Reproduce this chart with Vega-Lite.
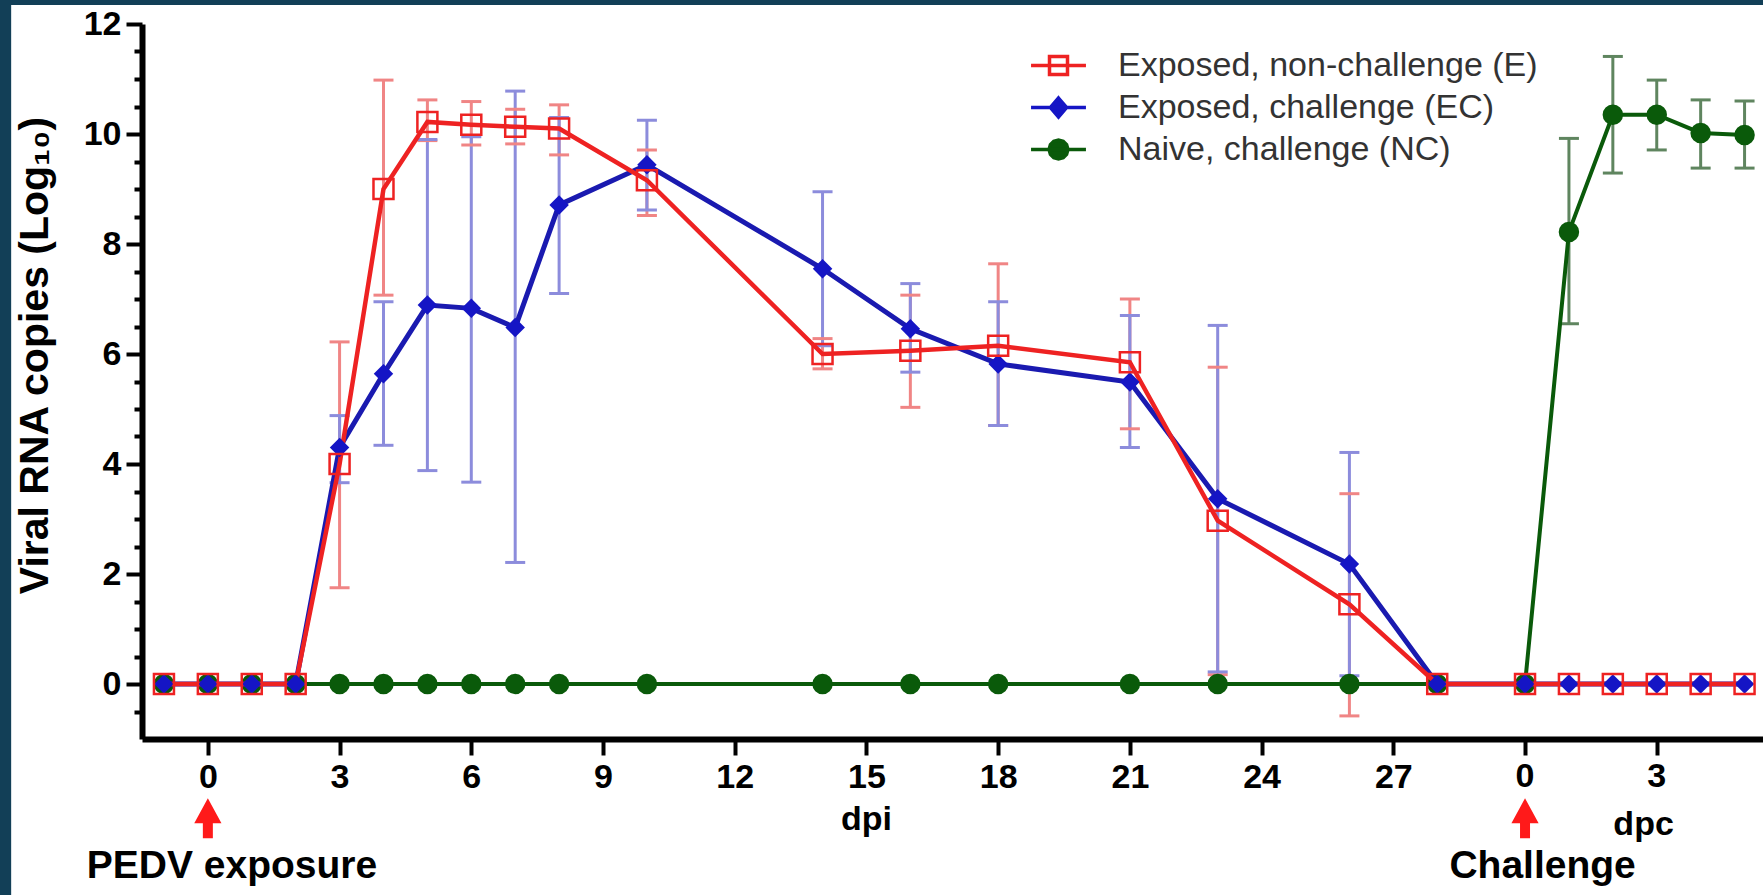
{
  "$schema": "https://vega.github.io/schema/vega-lite/v6.json",
  "width": 1621,
  "height": 715,
  "autosize": {"type": "none"},
  "padding": {"left": 142, "top": 24, "right": 0, "bottom": 156},
  "background": "white",
  "config": {"view": {"stroke": null}, "font": "Liberation Sans"},
  "resolve": {"axis": {"x": "independent", "y": "independent"}},
  "data": {"values": [
    {"s":"E","x":-1,"y":0},{"s":"E","x":0,"y":0},{"s":"E","x":1,"y":0},{"s":"E","x":2,"y":0},
    {"s":"E","x":3,"y":4.0,"lo":1.75,"hi":6.22},
    {"s":"E","x":4,"y":9.0,"lo":7.07,"hi":10.98},
    {"s":"E","x":5,"y":10.22,"lo":9.88,"hi":10.62},
    {"s":"E","x":6,"y":10.17,"lo":9.8,"hi":10.59},
    {"s":"E","x":7,"y":10.13,"lo":9.82,"hi":10.45},
    {"s":"E","x":8,"y":10.1,"lo":9.62,"hi":10.53},
    {"s":"E","x":10,"y":9.16,"lo":8.52,"hi":9.71},
    {"s":"E","x":14,"y":6.0,"lo":5.73,"hi":6.28},
    {"s":"E","x":16,"y":6.06,"lo":5.03,"hi":7.07},
    {"s":"E","x":18,"y":6.15,"lo":4.7,"hi":7.64},
    {"s":"E","x":21,"y":5.85,"lo":4.64,"hi":7.0},
    {"s":"E","x":23,"y":2.97,"lo":0.17,"hi":5.76},
    {"s":"E","x":26,"y":1.45,"lo":-0.58,"hi":3.46},
    {"s":"E","x":28,"y":0},{"s":"E","x":30,"y":0},{"s":"E","x":31,"y":0},{"s":"E","x":32,"y":0},{"s":"E","x":33,"y":0},{"s":"E","x":34,"y":0},{"s":"E","x":35,"y":0},
    {"s":"EC","x":-1,"y":0},{"s":"EC","x":0,"y":0},{"s":"EC","x":1,"y":0},{"s":"EC","x":2,"y":0},
    {"s":"EC","x":3,"y":4.3,"lo":3.66,"hi":4.88},
    {"s":"EC","x":4,"y":5.64,"lo":4.34,"hi":6.95},
    {"s":"EC","x":5,"y":6.89,"lo":3.88,"hi":9.9},
    {"s":"EC","x":6,"y":6.83,"lo":3.67,"hi":9.95},
    {"s":"EC","x":7,"y":6.48,"lo":2.21,"hi":10.78},
    {"s":"EC","x":8,"y":8.71,"lo":7.1,"hi":10.3},
    {"s":"EC","x":10,"y":9.44,"lo":8.62,"hi":10.25},
    {"s":"EC","x":14,"y":7.55,"lo":6.15,"hi":8.95},
    {"s":"EC","x":16,"y":6.46,"lo":5.67,"hi":7.28},
    {"s":"EC","x":18,"y":5.82,"lo":4.7,"hi":6.95},
    {"s":"EC","x":21,"y":5.49,"lo":4.3,"hi":6.7},
    {"s":"EC","x":23,"y":3.37,"lo":0.22,"hi":6.52},
    {"s":"EC","x":26,"y":2.18,"lo":0.15,"hi":4.21},
    {"s":"EC","x":28,"y":0},{"s":"EC","x":30,"y":0},{"s":"EC","x":31,"y":0},{"s":"EC","x":32,"y":0},{"s":"EC","x":33,"y":0},{"s":"EC","x":34,"y":0},{"s":"EC","x":35,"y":0},
    {"s":"NC","x":-1,"y":0},{"s":"NC","x":0,"y":0},{"s":"NC","x":1,"y":0},{"s":"NC","x":2,"y":0},{"s":"NC","x":3,"y":0},{"s":"NC","x":4,"y":0},{"s":"NC","x":5,"y":0},{"s":"NC","x":6,"y":0},{"s":"NC","x":7,"y":0},{"s":"NC","x":8,"y":0},{"s":"NC","x":10,"y":0},{"s":"NC","x":14,"y":0},{"s":"NC","x":16,"y":0},{"s":"NC","x":18,"y":0},{"s":"NC","x":21,"y":0},{"s":"NC","x":23,"y":0},{"s":"NC","x":26,"y":0},{"s":"NC","x":28,"y":0},{"s":"NC","x":30,"y":0},
    {"s":"NC","x":31,"y":8.22,"lo":6.55,"hi":9.92},
    {"s":"NC","x":32,"y":10.35,"lo":9.29,"hi":11.41},
    {"s":"NC","x":33,"y":10.35,"lo":9.71,"hi":10.98},
    {"s":"NC","x":34,"y":10.02,"lo":9.38,"hi":10.62},
    {"s":"NC","x":35,"y":9.98,"lo":9.38,"hi":10.6}
  ]},
  "layer": [
    {
      "data": {"values": [{}]},
      "mark": {"type": "rect", "color": "#123f57", "clip": false},
      "encoding": {
        "x": {"datum": -10, "type": "quantitative", "axis": null},
        "x2": {"datum": -4.48},
        "y": {"datum": 20, "type": "quantitative", "axis": null},
        "y2": {"datum": -10}
      }
    },
    {
      "data": {"values": [{}]},
      "mark": {"type": "rect", "color": "#123f57", "clip": false},
      "encoding": {
        "x": {"datum": -10, "type": "quantitative", "axis": null},
        "x2": {"datum": 40},
        "y": {"datum": 20, "type": "quantitative", "axis": null},
        "y2": {"datum": 12.345}
      }
    },
    {
      "transform": [{"filter": "isValid(datum.lo)"}],
      "mark": {"type": "rule", "strokeWidth": 3},
      "encoding": {
        "x": {"field": "x", "type": "quantitative",
          "scale": {"domain": [-1.5, 35.42], "nice": false, "zero": false},
          "axis": {"orient": "bottom", "values": [0,3,6,9,12,15,18,21,24,27],
            "title": null, "grid": false, "domainColor": "black", "domainWidth": 6,
            "tickColor": "black", "tickWidth": 4, "tickSize": 16,
            "labelFontSize": 34, "labelFontWeight": "bold", "labelColor": "black",
            "labelPadding": 5, "labelFont": "Liberation Sans"}},
        "y": {"field": "lo", "type": "quantitative",
          "scale": {"domain": [-1, 12], "nice": false, "zero": false},
          "axis": {"orient": "left", "values": [0,2,4,6,8,10,12], "tickSize": 16,
            "title": "Viral RNA copies (Log₁₀)", "titleFontSize": 41, "titleFontWeight": "bold",
            "titleColor": "black", "titleFont": "Liberation Sans", "titleX": -86, "titleY": 331,
            "grid": false, "domainColor": "black", "domainWidth": 6,
            "tickColor": "black", "tickWidth": 4,
            "labelFontSize": 34, "labelFontWeight": "bold", "labelColor": "black",
            "labelPadding": 5, "labelFont": "Liberation Sans"}},
        "y2": {"field": "hi"},
        "color": {"field": "s", "type": "nominal", "scale": {"domain": ["E","EC","NC"], "range": ["#f08585","#8c8cdc","#5f855f"]}, "legend": null}
      }
    },
    {
      "transform": [{"filter": "isValid(datum.lo)"}],
      "mark": {"type": "tick", "orient": "horizontal", "size": 20, "thickness": 3, "opacity": 1},
      "encoding": {
        "x": {"field": "x", "type": "quantitative", "axis": null},
        "y": {"field": "lo", "type": "quantitative", "axis": null},
        "color": {"field": "s", "type": "nominal", "legend": null}
      }
    },
    {
      "transform": [{"filter": "isValid(datum.hi)"}],
      "mark": {"type": "tick", "orient": "horizontal", "size": 20, "thickness": 3, "opacity": 1},
      "encoding": {
        "x": {"field": "x", "type": "quantitative", "axis": null},
        "y": {"field": "hi", "type": "quantitative", "axis": null},
        "color": {"field": "s", "type": "nominal", "legend": null}
      }
    },
    {
      "transform": [{"filter": "datum.s === 'NC'"}],
      "mark": {"type": "line", "color": "#0a5a0a", "strokeWidth": 4},
      "encoding": {
        "x": {"field": "x", "type": "quantitative",
          "axis": {"orient": "bottom", "values": [30, 33], "labels": false, "domain": false,
            "tickSize": 16, "tickWidth": 4, "tickColor": "black", "grid": false, "title": null}},
        "y": {"field": "y", "type": "quantitative",
          "axis": {"orient": "left", "values": [-0.5,0.5,1,1.5,2.5,3,3.5,4.5,5,5.5,6.5,7,7.5,8.5,9,9.5,10.5,11,11.5],
            "tickSize": 8, "tickWidth": 4, "tickColor": "black", "labels": false, "domain": false,
            "grid": false, "title": null}}
      }
    },
    {
      "transform": [{"filter": "datum.s === 'NC'"}],
      "mark": {"type": "point", "shape": "circle", "filled": true, "color": "#0a5a0a", "size": 420, "opacity": 1},
      "encoding": {
        "x": {"field": "x", "type": "quantitative", "axis": null},
        "y": {"field": "y", "type": "quantitative", "axis": null}
      }
    },
    {
      "transform": [{"filter": "datum.s === 'EC'"}],
      "mark": {"type": "line", "color": "#1a1ab0", "strokeWidth": 5},
      "encoding": {
        "x": {"field": "x", "type": "quantitative", "axis": null},
        "y": {"field": "y", "type": "quantitative", "axis": null}
      }
    },
    {
      "transform": [{"filter": "datum.s === 'E'"}],
      "mark": {"type": "line", "color": "#ee2222", "strokeWidth": 4.5},
      "encoding": {
        "x": {"field": "x", "type": "quantitative", "axis": null},
        "y": {"field": "y", "type": "quantitative", "axis": null}
      }
    },
    {
      "transform": [{"filter": "datum.s === 'EC'"}],
      "mark": {"type": "point", "shape": "diamond", "filled": true, "color": "#1515c5", "size": 380, "opacity": 1},
      "encoding": {
        "x": {"field": "x", "type": "quantitative", "axis": null},
        "y": {"field": "y", "type": "quantitative", "axis": null}
      }
    },
    {
      "transform": [{"filter": "datum.s === 'E'"}],
      "mark": {"type": "point", "shape": "square", "filled": false, "color": "#ee2222", "size": 400, "strokeWidth": 2.5, "opacity": 1},
      "encoding": {
        "x": {"field": "x", "type": "quantitative", "axis": null},
        "y": {"field": "y", "type": "quantitative", "axis": null}
      }
    },
    {
      "transform": [{"filter": "false"}],
      "mark": {"type": "point", "opacity": 1, "strokeWidth": 3.5},
      "encoding": {
        "x": {"field": "x", "type": "quantitative", "axis": null},
        "y": {"field": "y", "type": "quantitative", "axis": null},
        "shape": {"field": "s", "type": "nominal",
          "scale": {"domain": ["Exposed, non-challenge (E)","Exposed, challenge (EC)","Naive, challenge (NC)"], "range": [
            "M-1.22,0H1.22M-0.4,-0.4H0.4V0.4H-0.4Z",
            "M-1.22,0H1.22M0,-0.42L0.36,0L0,0.42L-0.36,0Z",
            "M-1.22,0H1.22M0.42,0L0.36,0.21L0.21,0.36L0,0.42L-0.21,0.36L-0.36,0.21L-0.42,0L-0.36,-0.21L-0.21,-0.36L0,-0.42L0.21,-0.36L0.36,-0.21Z"]},
          "legend": {"title": null, "orient": "none", "legendX": 892, "legendY": 17,
            "labelFontSize": 34, "labelColor": "#333333", "labelFont": "Liberation Sans", "labelLimit": 700,
            "symbolSize": 2025, "symbolStrokeWidth": 3.5, "labelOffset": 35, "rowPadding": 0, "padding": 0}},
        "stroke": {"field": "s", "type": "nominal",
          "scale": {"domain": ["Exposed, non-challenge (E)","Exposed, challenge (EC)","Naive, challenge (NC)"], "range": ["#ee2222","#1515c5","#0a5a0a"]},
          "legend": {"title": null, "orient": "none", "legendX": 892, "legendY": 17,
            "labelFontSize": 34, "labelColor": "#333333", "labelFont": "Liberation Sans", "labelLimit": 700,
            "symbolSize": 2025, "symbolStrokeWidth": 3.5, "labelOffset": 35, "rowPadding": 0, "padding": 0}},
        "fill": {"field": "s", "type": "nominal",
          "scale": {"domain": ["Exposed, non-challenge (E)","Exposed, challenge (EC)","Naive, challenge (NC)"], "range": ["white","#1515c5","#0a5a0a"]},
          "legend": {"title": null, "orient": "none", "legendX": 892, "legendY": 17,
            "labelFontSize": 34, "labelColor": "#333333", "labelFont": "Liberation Sans", "labelLimit": 700,
            "symbolSize": 2025, "symbolStrokeWidth": 3.5, "labelOffset": 35, "rowPadding": 0, "padding": 0}}
      }
    },
    {
      "data": {"values": [{"x": 30, "t": "0"}, {"x": 33, "t": "3"}]},
      "mark": {"type": "text", "fontSize": 34, "fontWeight": "bold", "font": "Liberation Sans", "baseline": "top", "align": "center", "color": "black", "clip": false},
      "encoding": {
        "x": {"field": "x", "type": "quantitative", "axis": null},
        "y": {"datum": -1.382, "type": "quantitative", "axis": null},
        "text": {"field": "t"}
      }
    },
    {
      "data": {"values": [{"x": 0}, {"x": 30}]},
      "mark": {"type": "point", "shape": "M0,-1L0.68,0.25L0.25,0.25L0.25,1L-0.25,1L-0.25,0.25L-0.68,0.25Z", "filled": true, "color": "#ff1a1a", "size": 1600, "opacity": 1, "clip": false},
      "encoding": {
        "x": {"field": "x", "type": "quantitative", "axis": null},
        "y": {"datum": -2.44, "type": "quantitative", "axis": null}
      }
    },
    {
      "data": {"values": [{}]},
      "mark": {"type": "text", "text": "dpi", "fontSize": 34, "fontWeight": "bold", "font": "Liberation Sans", "baseline": "alphabetic", "align": "center", "color": "black", "clip": false},
      "encoding": {
        "x": {"datum": 15, "type": "quantitative", "axis": null},
        "y": {"datum": -2.65, "type": "quantitative", "axis": null}
      }
    },
    {
      "data": {"values": [{}]},
      "mark": {"type": "text", "text": "dpc", "fontSize": 34, "fontWeight": "bold", "font": "Liberation Sans", "baseline": "alphabetic", "align": "center", "color": "black", "clip": false},
      "encoding": {
        "x": {"datum": 32.7, "type": "quantitative", "axis": null},
        "y": {"datum": -2.74, "type": "quantitative", "axis": null}
      }
    },
    {
      "data": {"values": [{}]},
      "mark": {"type": "text", "text": "PEDV exposure", "fontSize": 39, "fontWeight": "bold", "font": "Liberation Sans", "baseline": "alphabetic", "align": "center", "color": "black", "clip": false},
      "encoding": {
        "x": {"datum": 0.55, "type": "quantitative", "axis": null},
        "y": {"datum": -3.53, "type": "quantitative", "axis": null}
      }
    },
    {
      "data": {"values": [{}]},
      "mark": {"type": "text", "text": "Challenge", "fontSize": 39, "fontWeight": "bold", "font": "Liberation Sans", "baseline": "alphabetic", "align": "center", "color": "black", "clip": false},
      "encoding": {
        "x": {"datum": 30.4, "type": "quantitative", "axis": null},
        "y": {"datum": -3.53, "type": "quantitative", "axis": null}
      }
    }
  ]
}
